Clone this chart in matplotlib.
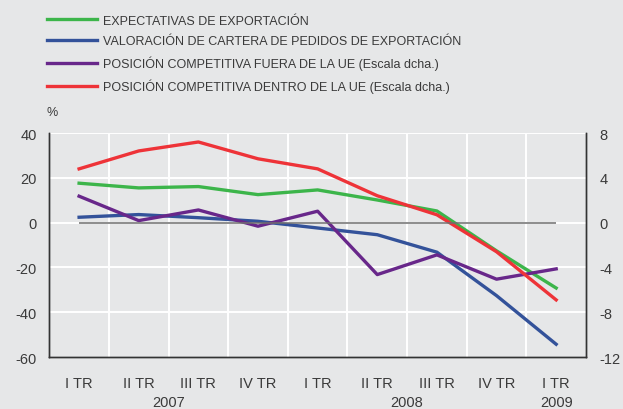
import matplotlib.pyplot as plt
import matplotlib.transforms as mtransforms

# quarters and years
quarters = ['I TR', 'II TR', 'III TR', 'IV TR', 'I TR', 'II TR', 'III TR', 'IV TR', 'I TR']
years = ['2007', '2008', '2009']
year_pos = [1.5, 5.5, 8]

# left scale (%)
expectativas = [17.6, 15.5, 16.1, 12.5, 14.6, 10.1, 5.2, -12.6, -29.2]
cartera = [2.4, 3.6, 2.2, 0.6, -2.4, -5.4, -13.2, -32.6, -54.3]
# right scale
fuera_ue = [2.36, 0.18, 1.13, -0.32, 1.02, -4.64, -2.88, -5.05, -4.13]
dentro_ue = [4.8, 6.4, 7.2, 5.7, 4.8, 2.4, 0.7, -2.6, -6.9]

labels = ['EXPECTATIVAS DE EXPORTACIÓN',
          'VALORACIÓN DE CARTERA DE PEDIDOS DE EXPORTACIÓN',
          'POSICIÓN COMPETITIVA FUERA DE LA UE (Escala dcha.)',
          'POSICIÓN COMPETITIVA DENTRO DE LA UE (Escala dcha.)']

bg = '#e6e7e8'
txt = '#3a3a3a'
plt.rcParams['font.family'] = ['Liberation Sans', 'DejaVu Sans']
plt.rcParams['axes.unicode_minus'] = False

fig = plt.figure(figsize=(6.23, 4.10), dpi=100, facecolor=bg)
ax = fig.add_axes([0.0791, 0.1268, 0.8615, 0.5463])
ax.set_facecolor(bg)
ax2 = ax.twinx()

x = list(range(len(quarters)))
l1, = ax.plot(x, expectativas, color='#3cb54a', lw=2.4, zorder=3)
l2, = ax.plot(x, cartera, color='#33529a', lw=2.4, zorder=3)
l3, = ax2.plot(x, fuera_ue, color='#68278a', lw=2.4)
l4, = ax2.plot(x, dentro_ue, color='#ee3338', lw=2.4)
# zero reference line drawn over the series
ax2.hlines(0, x[0], x[-1], color='#6f6f6f', lw=1.3, alpha=0.85, zorder=5)

ax.set_xlim(-0.5, 8.5)
ax.set_ylim(-60, 40)
ax2.set_ylim(-12, 8)
ax.set_yticks(range(-60, 41, 20))
ax2.set_yticks(range(-12, 9, 4))

# white grid: horizontal at ticks, vertical between quarters
for v in range(-40, 41, 20):
    ax.axhline(v, color='white', lw=1.4, zorder=1)
for b in range(1, len(quarters)):
    ax.axvline(b - 0.5, color='white', lw=1.4, zorder=1)

ax.set_xticks(x)
ax.set_xticklabels(quarters)
trans = mtransforms.blended_transform_factory(ax.transData, ax.transAxes)
for yr, p in zip(years, year_pos):
    ax.text(p, -0.2, yr, transform=trans, ha='center', va='center',
            fontsize=10.5, color=txt)

for a in (ax, ax2):
    a.tick_params(length=0, labelsize=10.5, colors=txt)
    a.spines['top'].set_visible(False)
    for s in ('left', 'right', 'bottom'):
        a.spines[s].set_color('#333333')
        a.spines[s].set_linewidth(1)
ax.tick_params(axis='x', pad=14)
ax.tick_params(axis='y', pad=9)
ax2.tick_params(axis='y', pad=9.5)

fig.text(0.0754, 0.7244, '%', fontsize=9, color=txt, ha='left', va='center')

fig.legend([l1, l2, l3, l4], labels, loc='upper left',
           bbox_to_anchor=(0.0572, 0.989), frameon=False, fontsize=9,
           handlelength=3.97, handletextpad=0.54, labelspacing=0.67,
           labelcolor=txt)

fig.savefig('out.png', dpi=100, facecolor=bg)
